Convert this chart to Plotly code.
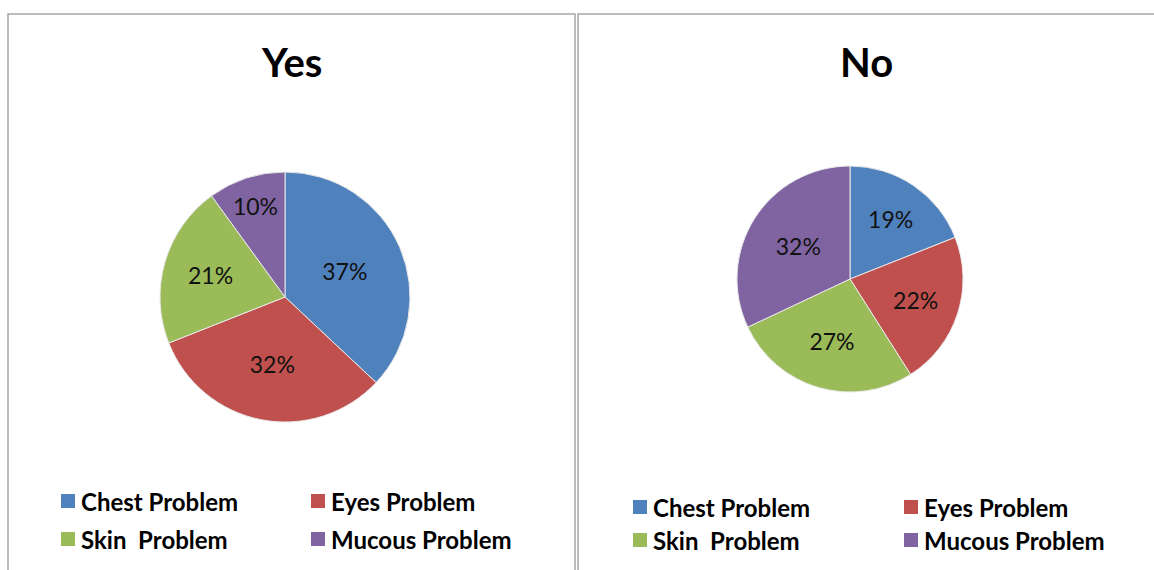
import plotly.graph_objects as go

W, H = 1154, 570

categories = ["Chest Problem", "Eyes Problem", "Skin  Problem", "Mucous Problem"]
yes_values = [37, 32, 21, 10]
no_values = [19, 22, 27, 32]
panel_titles = ["Yes", "No"]
colors = ["#4F81BD", "#C0504D", "#9BBB59", "#8064A2"]

FONT = "Lato"

def px_x(x):
    return x / W

def px_y(y):
    return 1 - y / H

fig = go.Figure()

# pie geometry (pixels): centre x, centre y, radius
pies = [
    (yes_values, 285, 297, 125),
    (no_values, 850, 279, 113),
]
for vals, cx, cy, r in pies:
    fig.add_trace(go.Pie(
        labels=categories,
        values=vals,
        sort=False,
        direction="clockwise",
        rotation=0,
        marker=dict(colors=colors, line=dict(color="#E8E8E8", width=1)),
        textinfo="percent",
        texttemplate="%{percent:.0%}",
        textposition="inside",
        insidetextorientation="horizontal",
        textfont=dict(family=FONT, size=23, color="#111111"),
        domain=dict(x=[px_x(cx - r), px_x(cx + r)], y=[px_y(cy + r), px_y(cy - r)]),
        showlegend=False,
        hoverinfo="label+percent",
    ))

shapes = []
annotations = []

# panel borders
for x0, x1 in [(8, 575), (578, 1160)]:
    shapes.append(dict(type="rect", xref="paper", yref="paper",
                       x0=px_x(x0), x1=px_x(x1), y0=px_y(580), y1=px_y(14),
                       line=dict(color="#A6A6A6", width=1.5), fillcolor="rgba(0,0,0,0)"))

# titles
for title, cx in zip(panel_titles, [292, 866]):
    annotations.append(dict(text=f"<b>{title}</b>", xref="paper", yref="paper",
                            x=px_x(cx), y=px_y(62), xanchor="center", yanchor="middle",
                            showarrow=False, font=dict(family=FONT, size=40, color="#000000")))

# legends (2 columns x 2 rows)
legend_layouts = [
    dict(cols=[61, 311], rows=[501, 539]),
    dict(cols=[633, 904], rows=[507, 540]),
]
sq = 14
for lay in legend_layouts:
    for i, cat in enumerate(categories):
        col = lay["cols"][i % 2]
        row = lay["rows"][i // 2]
        shapes.append(dict(type="rect", xref="paper", yref="paper",
                           x0=px_x(col), x1=px_x(col + sq),
                           y0=px_y(row + sq / 2), y1=px_y(row - sq / 2),
                           line=dict(width=0), fillcolor=colors[i]))
        annotations.append(dict(text="<b>" + cat.replace("  ", "\u00a0 ") + "</b>",
                                xref="paper", yref="paper",
                                x=px_x(col + sq + 4), y=px_y(row),
                                xanchor="left", yanchor="middle", showarrow=False,
                                font=dict(family=FONT, size=24, color="#000000")))

fig.update_layout(
    width=W, height=H,
    margin=dict(l=0, r=0, t=0, b=0),
    paper_bgcolor="white",
    plot_bgcolor="white",
    uniformtext=dict(minsize=23, mode="show"),
    shapes=shapes,
    annotations=annotations,
    showlegend=False,
)

fig.write_html("out.html")
